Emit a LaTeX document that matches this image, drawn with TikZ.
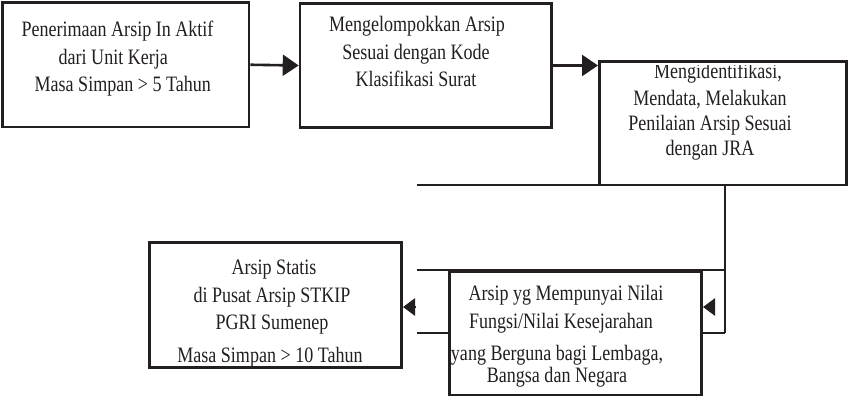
\documentclass[tikz,border=0pt]{standalone}
\usepackage{fontspec}
\setmainfont{Liberation Serif}[FakeStretch=0.82]
\usetikzlibrary{arrows.meta}
\definecolor{ink}{RGB}{35,31,32}
\begin{document}
\begin{tikzpicture}[x=1pt,y=-1pt,
  box/.style={draw=ink, line width=2.6pt, fill=white, rectangle, inner sep=0pt},
  txt/.style={anchor=base, inner sep=0pt, text=ink, font=\fontsize{22}{26}\selectfont},
  conn/.style={draw=ink, line width=2.6pt},
  arr/.style={conn, -{Triangle[length=16pt,width=21pt]}},
  tipa/.style={conn, -{Triangle[length=12pt,width=17pt]}}]
\useasboundingbox (0,0) rectangle (849,398);
% boxes
\node[box, minimum width=246.5pt, minimum height=124.5pt] (b1) at (125.75,64.75) {};
\node[box, minimum width=251.7pt, minimum height=124.4pt] (b2) at (425.85,65.5) {};
% connectors behind lower boxes
\coordinate (e3) at (416.7,185);
\coordinate (j1) at (725,185);
\coordinate (j2) at (725,270);
\coordinate (j3) at (725,333);
\coordinate (l1) at (416.7,270);
\coordinate (l2) at (416.7,333);
\draw[conn] (l1) -- (j2);
\draw[conn] (l2) -- (j3);
\draw[conn] (j1) -- (j3);
\node[box, minimum width=247.2pt, minimum height=123.3pt] (b3) at (722.9,123.35) {};
\draw[conn] (e3) -- (b3.south east |- e3);
\node[box, minimum width=252.4pt, minimum height=123.3pt] (b4) at (575.5,333.35) {};
\node[box, minimum width=252.4pt, minimum height=125pt] (b5) at (275.5,305.2) {};
% arrows
\draw[arr] (b1.east) -- (b2.west);
\draw[arr] (b2.east) -- (b3.west |- b2.east);
\coordinate (t4) at (715,307);
\coordinate (t5) at (416,307);
\draw[tipa] (t4) -- (t4 -| b4.east);
\draw[tipa] (t5) -- (t5 -| b5.east);
% texts
\node[txt] (x1a) at (117.5,37) {Penerimaan Arsip In Aktif};
\node[txt] (x1b) at (113.3,64.5) {dari Unit Kerja};
\node[txt] (x1c) at (122.8,92) {Masa Simpan > 5 Tahun};
\node[txt] (x2a) at (417,32) {Mengelompokkan Arsip};
\node[txt] (x2b) at (416,60) {Sesuai dengan Kode};
\node[txt] (x2c) at (416,87) {Klasifikasi Surat};
\begin{scope}
\clip (b3.south west |- 0,66) rectangle (b3.south east);
\node[txt] (x3a) at (718,79) {Mengidentifikasi,};
\node[txt] (x3b) at (710,105.5) {Mendata, Melakukan};
\node[txt] (x3c) at (710,131) {Penilaian Arsip Sesuai};
\node[txt] (x3d) at (710,156) {dengan JRA};
\end{scope}
\node[txt] (x4a) at (566,301) {Arsip yg Mempunyai Nilai};
\node[txt] (x4b) at (561,328) {Fungsi/Nilai Kesejarahan};
\node[txt] (x4c) at (557,360) {yang Berguna bagi Lembaga,};
\node[txt] (x4d) at (557,382) {Bangsa dan Negara};
\node[txt] (x5a) at (274,274) {Arsip Statis};
\node[txt] (x5b) at (272,302) {di Pusat Arsip STKIP};
\node[txt] (x5c) at (272,329) {PGRI Sumenep};
\node[txt] (x5d) at (270,362) {Masa Simpan > 10 Tahun};
\end{tikzpicture}
\end{document}
